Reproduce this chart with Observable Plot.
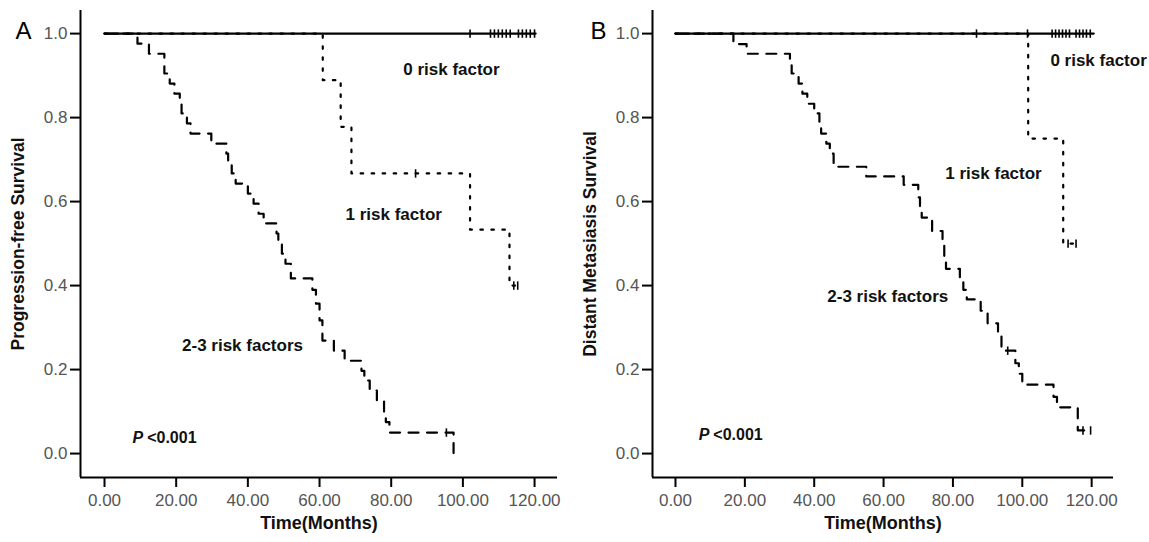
<!DOCTYPE html>
<html><head><meta charset="utf-8">
<script src="https://cdn.jsdelivr.net/npm/d3@7"></script>
<script src="https://cdn.jsdelivr.net/npm/@observablehq/plot@0.6"></script>
<style>
html,body{margin:0;padding:0;background:#fff;}
#wrap{position:relative;width:1149px;height:542px;overflow:hidden;background:#fff;}
#panelA,#panelB{position:absolute;top:0;}
#panelA{left:0;} #panelB{left:575px;}
</style></head><body>
<div id="wrap"><div id="panelA"></div><div id="panelB"></div></div>
<script>
// ---------- tick values ----------
const xTickValues = [0, 20, 40, 60, 80, 100, 120];
const yTickValues = [0, 0.2, 0.4, 0.6, 0.8, 1.0];

// ---------- Panel A : Progression-free survival ----------
const groupNames = ["0 risk factor", "1 risk factor", "2-3 risk factors"];

const a0Time = [0, 120.3];
const a0Surv = [1, 1];
const a0CensorTime = [102, 107.7, 108.8, 109.9, 111, 112.1, 113.2, 115.5, 116.6, 117.7, 118.8, 120];

const a1Time = [0, 60.9, 65.9, 68.9, 102, 113, 115.3];
const a1Surv = [1, 0.889, 0.778, 0.667, 0.533, 0.4, 0.4];
const a1CensorTime = [86.8, 114.2, 115.3];
const a1CensorSurv = [0.667, 0.4, 0.4];

const a23Time = [0, 9.2, 12.4, 16.7, 18.2, 19.5, 21, 21.5, 23, 24, 29.8, 34, 34.5, 35.5, 36.6, 40, 41.6, 43, 44.4, 48, 48.5, 49.5, 50.5, 52, 58, 59, 60, 60.8, 64, 67, 71.7, 72.5, 74, 76, 78, 78.5, 79.5, 97.4];
const a23Surv = [1, 0.976, 0.952, 0.905, 0.881, 0.857, 0.833, 0.81, 0.786, 0.762, 0.738, 0.714, 0.69, 0.667, 0.643, 0.619, 0.595, 0.571, 0.548, 0.524, 0.5, 0.476, 0.452, 0.417, 0.39, 0.357, 0.317, 0.269, 0.245, 0.221, 0.197, 0.174, 0.15, 0.126, 0.1, 0.075, 0.05, 0];
const a23CensorTime = [95.4];
const a23CensorSurv = [0.05];

// ---------- Panel B : Distant metastasis survival ----------
const b0Time = [0, 120.6];
const b0Surv = [1, 1];
const b0CensorTime = [86.8, 101.5, 108.6, 109.6, 110.6, 111.6, 112.6, 113.6, 115.5, 116.5, 117.5, 118.5, 119.6];

const b1Time = [0, 101.7, 111.8, 115.5];
const b1Surv = [1, 0.75, 0.5, 0.5];
const b1CensorTime = [113.2, 115.5];
const b1CensorSurv = [0.5, 0.5];

const b23Time = [0, 16.7, 20.5, 33, 33.5, 35.5, 36.6, 38, 40, 41.5, 42, 43.5, 44.5, 45.6, 55, 65.8, 70, 70.5, 71, 74, 77, 77.5, 78, 82, 83, 84, 88, 90, 93, 94, 98, 99, 100, 109, 110, 116, 120];
const b23Surv = [1, 0.975, 0.952, 0.929, 0.905, 0.881, 0.857, 0.833, 0.81, 0.786, 0.762, 0.738, 0.714, 0.683, 0.66, 0.64, 0.61, 0.585, 0.562, 0.53, 0.5, 0.46, 0.44, 0.414, 0.39, 0.367, 0.34, 0.31, 0.28, 0.245, 0.215, 0.19, 0.164, 0.135, 0.11, 0.055, 0.055];
const b23CensorTime = [95.8, 117.5, 119.7];
const b23CensorSurv = [0.245, 0.055, 0.055];

// ---------- helpers ----------
const FONT = "'Liberation Sans', Arial, Helvetica, sans-serif";
const rowsOf = (time, surv) => time.map((t, i) => ({t, s: surv[i]}));
const censorRows = (time, surv) => time.map((t, i) => ({t, s: Array.isArray(surv) ? surv[i] : surv}));
const tickSymbol = {
  draw(context, size) {
    const h = Math.sqrt(size / Math.PI);
    context.moveTo(0, -h);
    context.lineTo(0, h);
  }
};
const dashes = [null, "2.5 8.5", "10 8.5"];

function panel({width, marginLeft, marginRight, xDomain, series, letter, yLabel, labels, pPos}) {
  const yDomain = [-0.057, 1.055];
  const marks = [
    Plot.ruleX([xDomain[0]], {stroke: "black", strokeWidth: 2}),
    Plot.ruleY([yDomain[0]], {stroke: "black", strokeWidth: 2}),
    Plot.axisX({ticks: xTickValues, tickFormat: d => d.toFixed(2), tickSize: 10, tickPadding: 6,
      fontSize: 17, fill: "#555", stroke: "black", strokeWidth: 2, label: null}),
    Plot.axisY({ticks: yTickValues, tickFormat: d => d.toFixed(1), tickSize: 10, tickPadding: 3,
      fontSize: 17, fill: "#555", stroke: "black", strokeWidth: 2, label: null}),
  ];
  series.forEach((sr, i) => {
    marks.push(Plot.line(rowsOf(sr.time, sr.surv), {x: "t", y: "s", curve: "step-after",
      stroke: "black", strokeWidth: 2.2, ...(dashes[i] ? {strokeDasharray: dashes[i]} : {})}));
  });
  series.forEach(sr => {
    marks.push(Plot.dot(censorRows(sr.cTime, sr.cSurv), {x: "t", y: "s", symbol: tickSymbol, r: 4.2,
      stroke: "black", fill: "none", strokeWidth: 1.6}));
  });
  labels.forEach(l => {
    marks.push(Plot.text([l.text], {x: () => l.t, y: () => l.s, fontSize: 17, fontWeight: "bold", fill: "#111"}));
  });
  marks.push(Plot.text(["P"], {x: () => pPos.t, y: () => pPos.s, textAnchor: "start", fontSize: 16, fontWeight: "bold", fontStyle: "italic", fill: "#111"}));
  marks.push(Plot.text(["<0.001"], {x: () => pPos.t2, y: () => pPos.s, textAnchor: "start", fontSize: 16, fontWeight: "bold", fill: "#111"}));
  marks.push(Plot.text(["Time(Months)"], {frameAnchor: "bottom", dy: 46, lineAnchor: "middle", fontSize: 18, fontWeight: "bold", fill: "#111"}));
  marks.push(Plot.text([yLabel], {frameAnchor: "left", dx: -62, textAnchor: "middle", lineAnchor: "middle", rotate: -90, fontSize: 17.5, fontWeight: "bold", fill: "#111"}));
  marks.push(Plot.text([letter], {frameAnchor: "top-left", dx: -marginLeft + 23, dy: 21, textAnchor: "middle", lineAnchor: "middle", fontSize: 24, fill: "black"}));
  return Plot.plot({
    width, height: 542,
    marginLeft, marginRight, marginTop: 10, marginBottom: 65,
    x: {domain: xDomain},
    y: {domain: yDomain},
    style: {fontFamily: FONT, background: "white", overflow: "visible"},
    marks
  });
}

document.getElementById("panelA").appendChild(panel({
  width: 575, marginLeft: 80, marginRight: 18, xDomain: [-6.7, 126.4],
  letter: "A", yLabel: "Progression-free Survival",
  series: [
    {time: a0Time, surv: a0Surv, cTime: a0CensorTime, cSurv: 1},
    {time: a1Time, surv: a1Surv, cTime: a1CensorTime, cSurv: a1CensorSurv},
    {time: a23Time, surv: a23Surv, cTime: a23CensorTime, cSurv: a23CensorSurv}
  ],
  labels: [
    {text: groupNames[0], t: 96.8, s: 0.914},
    {text: groupNames[1], t: 80.7, s: 0.569},
    {text: groupNames[2], t: 38.5, s: 0.257}
  ],
  pPos: {t: 7.8, t2: 11.9, s: 0.038}
}));

document.getElementById("panelB").appendChild(panel({
  width: 574, marginLeft: 77, marginRight: 36, xDomain: [-6.63, 126.3],
  letter: "B", yLabel: "Distant Metasiasis Survival",
  series: [
    {time: b0Time, surv: b0Surv, cTime: b0CensorTime, cSurv: 1},
    {time: b1Time, surv: b1Surv, cTime: b1CensorTime, cSurv: b1CensorSurv},
    {time: b23Time, surv: b23Surv, cTime: b23CensorTime, cSurv: b23CensorSurv}
  ],
  labels: [
    {text: groupNames[0], t: 122, s: 0.936},
    {text: groupNames[1], t: 91.7, s: 0.667},
    {text: groupNames[2], t: 61.2, s: 0.374}
  ],
  pPos: {t: 6.7, t2: 10.9, s: 0.045}
}));
</script>
</body></html>
